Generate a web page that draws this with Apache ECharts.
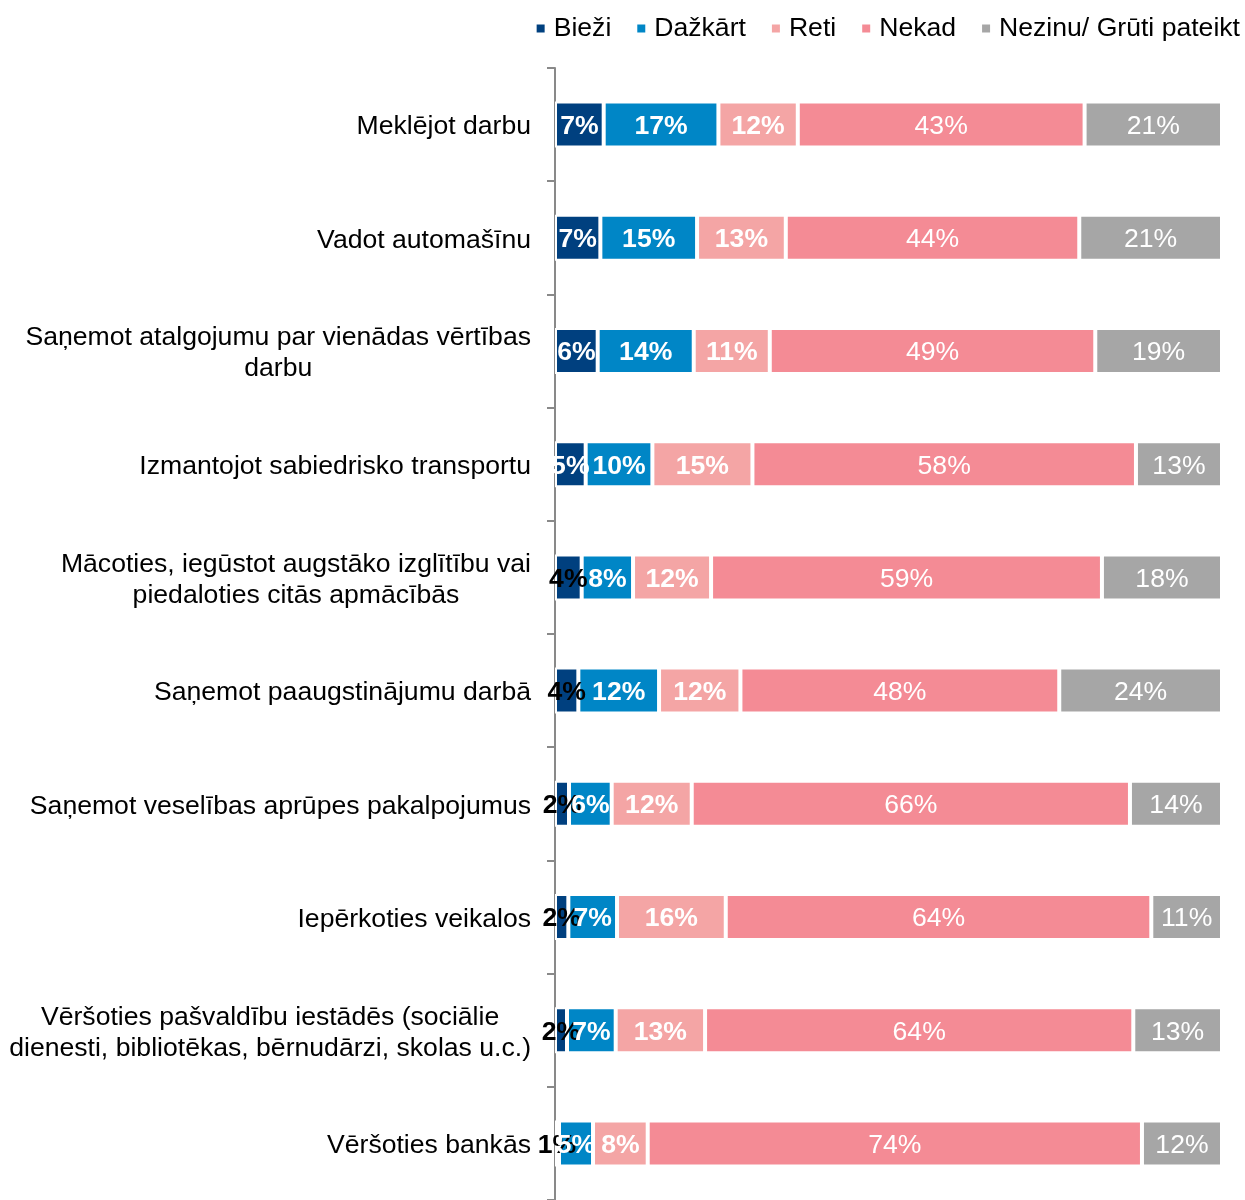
<!DOCTYPE html>
<html>
<head>
<meta charset="utf-8">
<script src="https://cdn.jsdelivr.net/npm/echarts@6/dist/echarts.min.js"></script>
<style>
  html, body { margin: 0; padding: 0; background: #fff; }
  #chart { width: 1245px; height: 1200px; }
</style>
</head>
<body>
<div id="chart"></div>
<script>
const categories = [
  "Meklējot darbu",
  "Vadot automašīnu",
  "Saņemot atalgojumu par vienādas vērtības\ndarbu",
  "Izmantojot sabiedrisko transportu",
  "Mācoties, iegūstot augstāko izglītību vai\npiedaloties citās apmācībās",
  "Saņemot paaugstinājumu darbā",
  "Saņemot veselības aprūpes pakalpojumus",
  "Iepērkoties veikalos",
  "Vēršoties pašvaldību iestādēs (sociālie\ndienesti, bibliotēkas, bērnudārzi, skolas u.c.)",
  "Vēršoties bankās",
];

const seriesNames = ["Bieži", "Dažkārt", "Reti", "Nekad", "Nezinu/ Grūti pateikt"];

// shares in % (labels show them rounded)
const biezi = [7.3, 6.8, 6.4, 4.6, 4.0, 3.5, 2.1, 2.0, 1.8, 0.6];
const dazkart = [17.2, 14.5, 14.4, 10.0, 7.7, 12.1, 6.4, 7.3, 7.3, 5.1];
const reti = [11.9, 13.3, 11.4, 15.0, 11.7, 12.2, 12.0, 16.3, 13.4, 8.2];
const nekad = [43.0, 44.0, 48.8, 57.5, 58.6, 47.8, 65.7, 63.8, 64.2, 74.1];
const nezinu = [20.6, 21.4, 19.0, 12.9, 18.0, 24.4, 13.8, 10.6, 13.3, 12.0];

const colors = ["#00407f", "#0086c6", "#f4a5a5", "#f48b95", "#a6a6a6"];
const FONT = "'Liberation Sans', Arial, sans-serif";
const SIZE = 26.6;

const chart = echarts.init(document.getElementById("chart"));

function makeSeries(name, values, color, bold) {
  return {
    name: name,
    type: "bar",
    stack: "total",
    barWidth: 46,
    data: values,
    itemStyle: { color: color, borderColor: "#fff", borderWidth: 2 },
    label: {
      show: true,
      position: "inside",
      offset: [0, 2],
      color: "#fff",
      fontFamily: FONT,
      fontSize: SIZE,
      fontWeight: bold ? "bold" : "normal",
      formatter: (p) => Math.round(p.value) + "%",
    },
  };
}

// small "Bieži" shares get a dark label, as in the source
const bieziData = biezi.map((v) => ({
  value: v,
  label: { color: v < 4.5 ? "#000" : "#fff" },
}));

const option = {
  animation: false,
  backgroundColor: "#fff",
  color: colors,
  legend: {
    right: 0,
    top: 10,
    icon: "rect",
    itemWidth: 10,
    itemHeight: 10,
    itemGap: 24,
    textStyle: { fontFamily: FONT, fontSize: SIZE, color: "#000", padding: [0, 0, 0, 3] },
    data: seriesNames,
  },
  grid: { left: 555, right: 23, top: 68, height: 1140 },
  xAxis: { type: "value", min: 0, max: 100, show: false },
  yAxis: {
    type: "category",
    inverse: true,
    data: categories,
    axisLine: { show: true, lineStyle: { color: "#898989", width: 2 } },
    axisTick: { show: true, length: 8, lineStyle: { color: "#898989", width: 2 } },
    axisLabel: {
      interval: 0,
      margin: 24,
      padding: [5, 0, 0, 0],
      color: "#000",
      fontFamily: FONT,
      fontSize: SIZE,
      formatter: (v) => v.split("\n").map((l) => "{c|" + l + "}").join("\n"),
      rich: {
        c: { align: "center", fontFamily: FONT, fontSize: SIZE, lineHeight: 31, color: "#000" },
      },
    },
  },
  series: [
    makeSeries(seriesNames[0], bieziData, colors[0], true),
    makeSeries(seriesNames[1], dazkart, colors[1], true),
    makeSeries(seriesNames[2], reti, colors[2], true),
    makeSeries(seriesNames[3], nekad, colors[3], false),
    makeSeries(seriesNames[4], nezinu, colors[4], false),
  ],
};

chart.setOption(option);
</script>
</body>
</html>
